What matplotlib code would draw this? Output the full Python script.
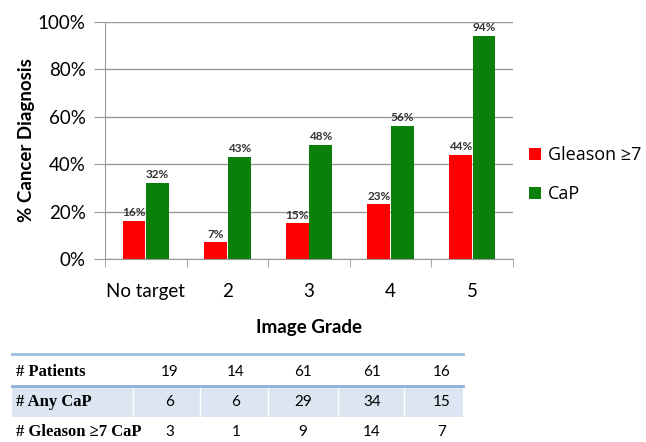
import numpy as np
import matplotlib
matplotlib.use('Agg')
import matplotlib.pyplot as plt

# Data
categories = ['No target', '2', '3', '4', '5']
gleason = [16, 7, 15, 23, 44]
cap = [32, 43, 48, 56, 94]
row_labels = ['# Patients', '# Any CaP', '# Gleason \u22657 CaP']
patients = [19, 14, 61, 61, 16]
any_cap = [6, 6, 29, 34, 15]
gleason_cap = [3, 1, 9, 14, 7]

W, H = 646, 442
fig = plt.figure(figsize=(W / 100, H / 100), dpi=100)
font = 'Lato'

# background axes in pixel coords for the table
bg = fig.add_axes([0, 0, 1, 1])
bg.set_xlim(0, W)
bg.set_ylim(H, 0)
bg.axis('off')

ax = fig.add_axes([105 / W, 1 - 259 / H, (513 - 105) / W, (259 - 22) / H])
x = np.arange(len(categories))
w = 0.28
b1 = ax.bar(x - 0.145, np.array(gleason) / 100, w, color='#ff0000', label='Gleason \u22657', zorder=3)
b2 = ax.bar(x + 0.145, np.array(cap) / 100, w, color='#0a800a', label='CaP', zorder=3)
for bars, vals in [(b1, gleason), (b2, cap)]:
    for r, v in zip(bars, vals):
        ax.text(r.get_x() + r.get_width() / 2, v / 100 + 0.012, f'{v}%', ha='center', va='bottom',
                fontsize=8.5, fontweight='bold', color='#333333', family=font)

ax.set_xlim(-0.5, 4.5)
ax.set_ylim(0, 1)
ax.set_yticks(np.arange(0, 1.01, 0.2))
ax.set_yticklabels([f'{int(round(t * 100))}%' for t in np.arange(0, 1.01, 0.2)], fontsize=13.5, family=font)
ax.set_xticks(x)
ax.set_xticklabels(categories, fontsize=13.5, family=font)
ax.set_xticks(np.arange(-0.5, 4.6, 1), minor=True)
ax.tick_params(axis='x', which='major', length=0, pad=17)
ax.tick_params(axis='x', which='minor', length=6, color='#999999')
ax.tick_params(axis='y', length=8, color='#999999', pad=6)
ax.yaxis.grid(True, color='#999999', lw=1, zorder=0)
for s in ['top', 'right']:
    ax.spines[s].set_visible(False)
for s in ['left', 'bottom']:
    ax.spines[s].set_color('#999999')
ax.set_ylabel('% Cancer Diagnosis', fontsize=13.5, fontweight='bold', family=font, labelpad=2)
ax.set_xlabel('Image Grade', fontsize=13.5, fontweight='bold', family=font, labelpad=14)
ax.legend(loc='center left', bbox_to_anchor=(1.0, 0.355), frameon=False,
          prop={'family': 'Open Sans', 'size': 13}, handlelength=0.65, handleheight=0.65,
          handletextpad=0.4, labelspacing=1.15, borderaxespad=0.5)

# table
x0, x1 = 12, 463
col_edges = [133, 200, 268, 338, 404, 463]
col_centers = [170, 236, 303, 372, 442]
bg.add_patch(plt.Rectangle((x0, 386), x1 - x0, 31, color='#dce6f2', lw=0))
for e in col_edges[:-1]:
    bg.plot([e, e], [386, 417], color='white', lw=1)
bg.plot([x0, x1], [354, 354], color='#9bbbe0', lw=2)
bg.plot([x0, x1], [386, 386], color='#8eb0dc', lw=2)
rows_y = [372, 402, 432]
for lab, vals, yy in zip(row_labels, [patients, any_cap, gleason_cap], rows_y):
    bg.text(16, yy, lab, ha='left', va='center', fontsize=12, fontweight='bold',
            family='Liberation Serif')
    for cx, v in zip(col_centers, vals):
        bg.text(cx, yy, str(v), ha='center', va='center', fontsize=11, family=font)

fig.savefig('out.png', dpi=100)
